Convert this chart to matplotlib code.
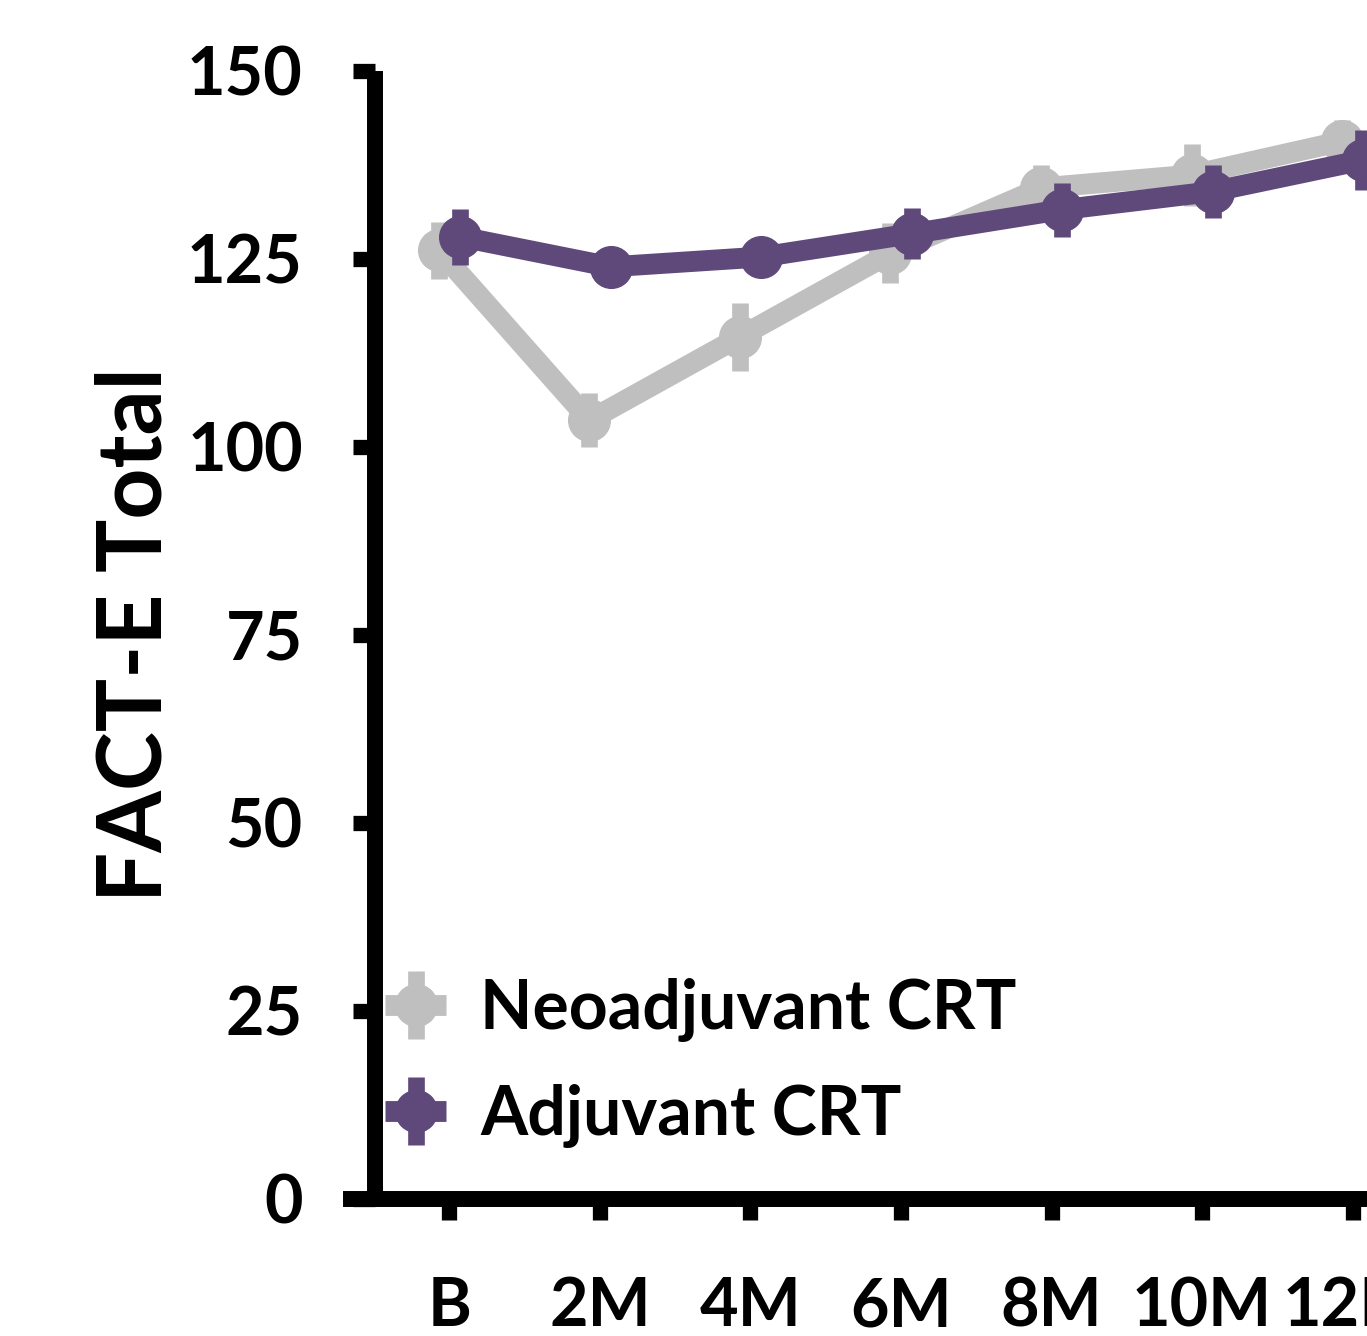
import matplotlib
matplotlib.use('Agg')
import matplotlib.pyplot as plt

# data
timepoints = ['B', '2M', '4M', '6M', '8M', '10M', '12M']
neo_mean = [126.1, 103.5, 114.6, 125.7, 134.4, 136.1, 140.6]
neo_err = [3.8, 3.6, 4.5, 4.0, 3.0, 4.1, 2.8]
adj_mean = [127.9, 123.9, 125.2, 128.3, 131.5, 133.9, 138.1]
adj_err = [3.7, 2.5, 2.5, 3.4, 3.6, 3.5, 4.0]

plt.rcParams['font.family'] = ['Lato', 'DejaVu Sans']
plt.rcParams['font.weight'] = 'bold'

fig = plt.figure(figsize=(13.67, 13.36), dpi=100)
ax = fig.add_axes([0.2743, 0.1029, 0.7257, 0.8443])

gray = '#bfbfbf'
purple = '#5f497a'
x = list(range(len(timepoints)))
shift = 0.07

ax.errorbar([i - shift for i in x], neo_mean, yerr=neo_err, color=gray, lw=15,
            marker='o', ms=30, elinewidth=12, capsize=0, label='Neoadjuvant CRT',
            solid_capstyle='butt', zorder=2)
ax.errorbar([i + shift for i in x], adj_mean, yerr=adj_err, color=purple, lw=15,
            marker='o', ms=30, elinewidth=12, capsize=0, label='Adjuvant CRT',
            solid_capstyle='butt', zorder=3)

ax.set_xlim(-0.495, 6.096)
ax.set_ylim(0, 150)
ax.set_yticks([0, 25, 50, 75, 100, 125, 150])
ax.set_xticks(x)
ax.set_xticklabels(timepoints)

for s in ['top', 'right']:
    ax.spines[s].set_visible(False)
for s in ['left', 'bottom']:
    ax.spines[s].set_linewidth(11.5)
ax.spines['bottom'].set_bounds(-0.655, 6.2)
ax.spines['left'].set_capstyle('butt')

ax.tick_params(axis='both', width=11, labelsize=48, colors='black')
ax.tick_params(axis='x', length=15, pad=41)
ax.tick_params(axis='y', length=16, pad=36)

ax.set_ylabel('FACT-E Total', fontsize=64, fontweight='bold')
ax.yaxis.set_label_coords(-0.200, 0.5)

leg = ax.legend(loc='lower left', bbox_to_anchor=(0.01, 0.045), frameon=False,
                fontsize=49, handlelength=0.9, handletextpad=0.5,
                labelspacing=0.62, borderpad=0.0, borderaxespad=0.0)

fig.savefig('out.png', dpi=100)
